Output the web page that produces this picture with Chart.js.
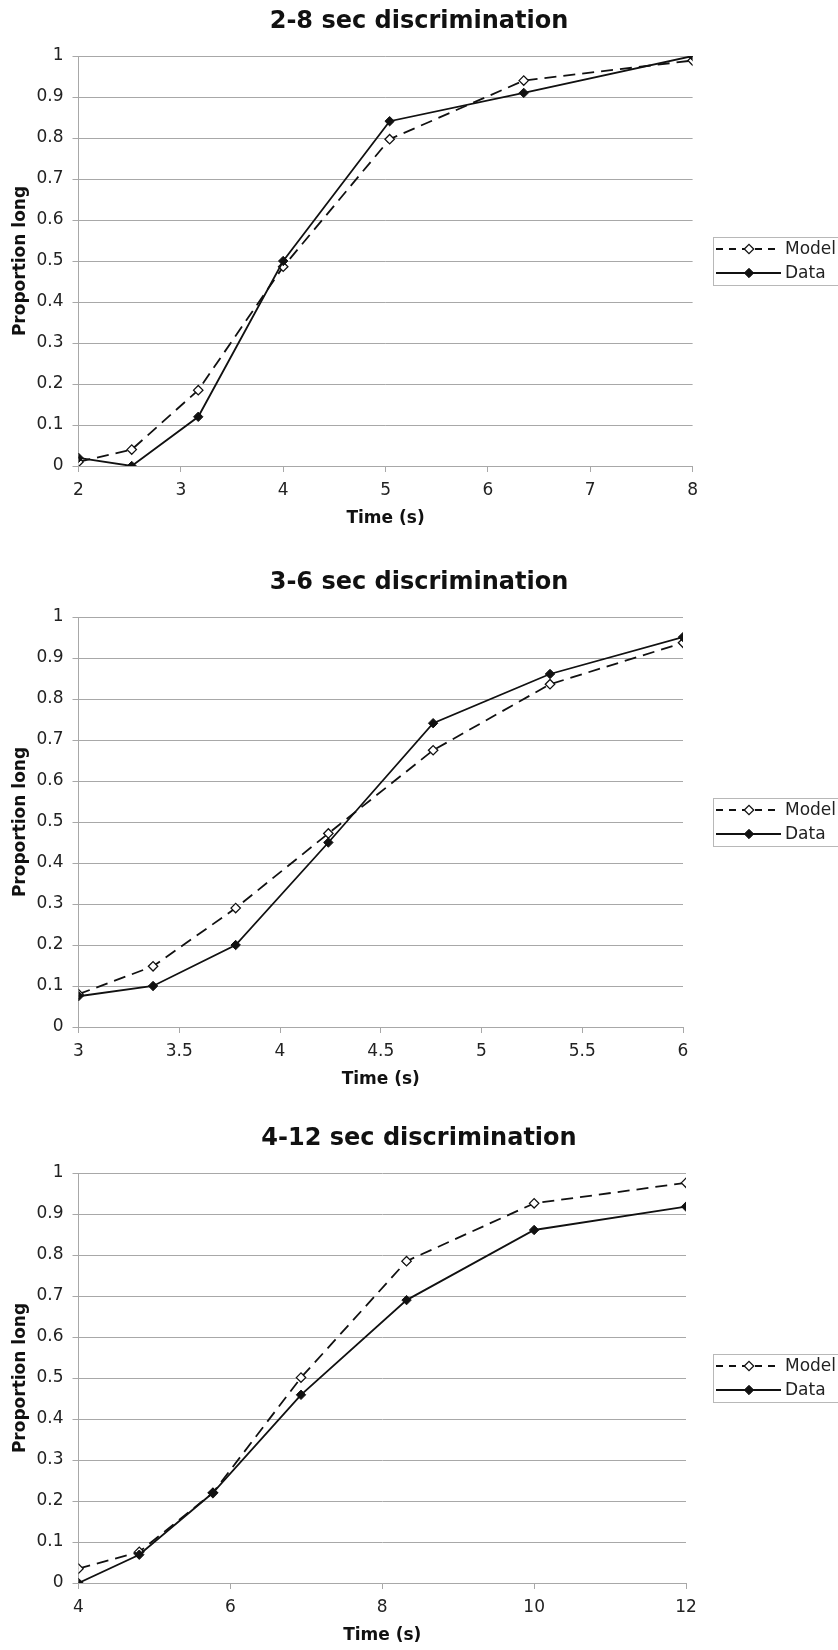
<!DOCTYPE html>
<html>
<head>
<meta charset="utf-8">
<script src="https://cdn.jsdelivr.net/npm/chart.js@4.4.1/dist/chart.umd.min.js"></script>
<style>
  html, body { margin: 0; padding: 0; background: #fff; }
  .panel { position: absolute; left: 0; width: 838px; }
</style>
</head>
<body>
<div class="panel" style="top:0px"><canvas id="c1" width="838" height="533"></canvas></div>
<div class="panel" style="top:561px"><canvas id="c2" width="838" height="533"></canvas></div>
<div class="panel" style="top:1117px"><canvas id="c3" width="838" height="533"></canvas></div>
<script>
// 2-8 sec discrimination
const time28 = [2, 2.52, 3.17, 4, 5.04, 6.35, 8];
const model28 = [0.01, 0.04, 0.185, 0.486, 0.797, 0.94, 0.989];
const data28 = [0.02, 0.0, 0.12, 0.5, 0.841, 0.91, 1.0];

// 3-6 sec discrimination
const time36 = [3, 3.37, 3.78, 4.24, 4.76, 5.34, 6];
const model36 = [0.08, 0.148, 0.29, 0.472, 0.675, 0.836, 0.937];
const data36 = [0.075, 0.1, 0.2, 0.45, 0.741, 0.861, 0.951];

// 4-12 sec discrimination
const time412 = [4, 4.8, 5.77, 6.93, 8.32, 10, 12];
const model412 = [0.035, 0.076, 0.22, 0.501, 0.785, 0.926, 0.976];
const data412 = [0, 0.069, 0.22, 0.459, 0.69, 0.861, 0.918];

// tick labels
const yTickLabels = ['0', '0.1', '0.2', '0.3', '0.4', '0.5', '0.6', '0.7', '0.8', '0.9', '1'];
const xTicks28 = ['2', '3', '4', '5', '6', '7', '8'];
const xTicks36 = ['3', '3.5', '4', '4.5', '5', '5.5', '6'];
const xTicks412 = ['4', '6', '8', '10', '12'];

const FONT = '"DejaVu Sans", Verdana, sans-serif';
const GRID = '#a8a8a8';
const INK = '#111';

// legend with line sample + marker, drawn in a bordered box right of the plot
const legendBox = {
    id: 'legendBox',
    afterDraw(chart) {
        const ctx = chart.ctx;
        const area = chart.chartArea;
        const cy = Math.round((area.top + area.bottom) / 2);
        ctx.save();
        ctx.strokeStyle = '#b8b8b8';
        ctx.lineWidth = 1;
        ctx.strokeRect(713.5, cy - 23.5, 140, 48);
        chart.data.datasets.forEach((ds, i) => {
            const y = cy - 12 + i * 24;
            ctx.strokeStyle = ds.borderColor;
            ctx.lineWidth = ds.borderWidth;
            ctx.setLineDash(ds.borderDash ? [7, 6] : []);
            ctx.beginPath();
            ctx.moveTo(716, y);
            ctx.lineTo(781, y);
            ctx.stroke();
            ctx.setLineDash([]);
            const r = ds.pointRadius;
            ctx.beginPath();
            ctx.moveTo(749 - r, y);
            ctx.lineTo(749, y - r);
            ctx.lineTo(749 + r, y);
            ctx.lineTo(749, y + r);
            ctx.closePath();
            ctx.fillStyle = ds.pointBackgroundColor;
            ctx.fill();
            ctx.lineWidth = ds.pointBorderWidth;
            ctx.strokeStyle = ds.pointBorderColor;
            ctx.stroke();
            ctx.fillStyle = '#222';
            ctx.font = '17px ' + FONT;
            ctx.textBaseline = 'middle';
            ctx.textAlign = 'left';
            ctx.fillText(ds.label, 785, y + 1);
        });
        ctx.restore();
    }
};

function makeChart(id, title, times, model, data, xMin, xMax, xStep, xLabels, rightPad) {
    const toPts = (vals) => vals.map((v, i) => ({ x: times[i], y: v }));
    return new Chart(document.getElementById(id), {
        type: 'line',
        data: {
            datasets: [
                {
                    label: 'Model',
                    data: toPts(model),
                    borderColor: INK,
                    borderWidth: 1.8,
                    borderDash: [12, 7],
                    pointStyle: 'rectRot',
                    pointRadius: 4.7,
                    pointBackgroundColor: '#fff',
                    pointBorderColor: INK,
                    pointBorderWidth: 1.3,
                    tension: 0,
                    order: 1
                },
                {
                    label: 'Data',
                    data: toPts(data),
                    borderColor: INK,
                    borderWidth: 1.8,
                    pointStyle: 'rectRot',
                    pointRadius: 4.7,
                    pointBackgroundColor: INK,
                    pointBorderColor: INK,
                    pointBorderWidth: 1,
                    tension: 0,
                    order: 0
                }
            ]
        },
        options: {
            responsive: false,
            animation: false,
            layout: { padding: 0 },
            plugins: {
                legend: { display: false },
                tooltip: { enabled: false },
                title: {
                    display: true,
                    text: title,
                    color: INK,
                    font: { family: FONT, size: 24, weight: 'bold' },
                    padding: { top: 7, bottom: 20.2 }
                }
            },
            scales: {
                x: {
                    type: 'linear',
                    min: xMin,
                    max: xMax,
                    ticks: {
                        stepSize: xStep,
                        color: '#222',
                        font: { family: FONT, size: 17 },
                        padding: 8,
                        maxRotation: 0,
                        autoSkip: false,
                        callback: (v, i) => xLabels[i]
                    },
                    grid: { drawOnChartArea: false, drawTicks: true, tickLength: 6, color: GRID },
                    border: { display: true, color: GRID },
                    title: {
                        display: true,
                        text: 'Time (s)',
                        color: INK,
                        font: { family: FONT, size: 17, weight: 'bold' },
                        padding: { top: 0, bottom: 4 }
                    },
                    afterFit(scale) {
                        // fixed axis height; right side space kept free for the legend
                        scale.height = 67;
                        scale.paddingLeft = 0;
                        scale.paddingRight = rightPad;
                    }
                },
                y: {
                    min: 0,
                    max: 1,
                    ticks: {
                        stepSize: 0.1,
                        color: '#222',
                        font: { family: FONT, size: 17 },
                        padding: 9,
                        callback: (v) => yTickLabels[Math.round(v * 10)]
                    },
                    grid: { color: GRID, tickLength: 6 },
                    border: { display: true, color: GRID },
                    title: {
                        display: true,
                        text: 'Proportion long',
                        color: INK,
                        font: { family: FONT, size: 17, weight: 'bold' },
                        padding: { top: 10, bottom: 0 }
                    },
                    afterFit(scale) {
                        scale.width = 78.5;
                    }
                }
            }
        },
        plugins: [legendBox]
    });
}

makeChart('c1', '2-8 sec discrimination', time28, model28, data28, 2, 8, 1, xTicks28, 145.4);
makeChart('c2', '3-6 sec discrimination', time36, model36, data36, 3, 6, 0.5, xTicks36, 155);
makeChart('c3', '4-12 sec discrimination', time412, model412, data412, 4, 12, 2, xTicks412, 152);
</script>
</body>
</html>
